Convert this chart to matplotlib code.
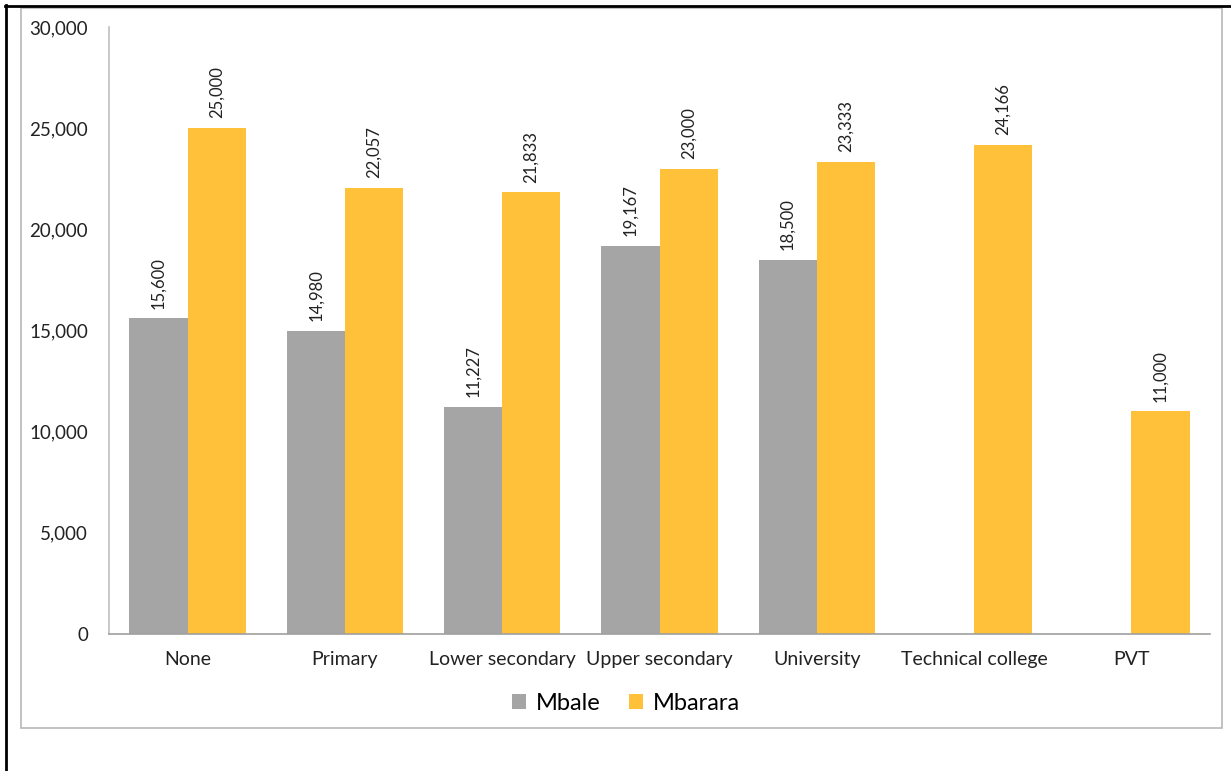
import numpy as np
import matplotlib
matplotlib.use("Agg")
import matplotlib.pyplot as plt
from matplotlib.lines import Line2D

# data
categories = ["None", "Primary", "Lower secondary", "Upper secondary",
              "University", "Technical college", "PVT"]
mbale = [15600, 14980, 11227, 19167, 18500, None, None]
mbarara = [25000, 22057, 21833, 23000, 23333, 24166, 11000]
yticks = [0, 5000, 10000, 15000, 20000, 25000, 30000]

GRAY = "#A5A5A5"
GOLD = "#FFC13A"

plt.rcParams["font.family"] = ["Lato", "DejaVu Sans"]

W, H = 1231, 771
fig = plt.figure(figsize=(W / 100, H / 100), dpi=100)

# outer frame lines (black, top and left) and inner gray chart box
fig.add_artist(Line2D([6 / W, 6 / W], [0, 1 - 5 / H], color="black", lw=2))
fig.add_artist(Line2D([5 / W, 1], [1 - 6 / H, 1 - 6 / H], color="black", lw=2))
fig.add_artist(plt.Rectangle((21 / W, 1 - 728 / H), (1222 - 21) / W, (728 - 8) / H,
                             fill=False, edgecolor="#B8B8B8", lw=1.2))

ax = fig.add_axes([109 / W, 1 - 634 / H, (1210 - 109) / W, (634 - 27) / H])

x = np.arange(len(categories))
bw = 0.37
mb = [v if v is not None else 0 for v in mbale]
bars1 = ax.bar(x - bw / 2, mb, bw, color=GRAY, label="Mbale")
bars2 = ax.bar(x + bw / 2, mbarara, bw, color=GOLD, label="Mbarara")

for i, v in enumerate(mbale):
    if v is not None:
        ax.annotate(f"{v:,}", (x[i] - bw / 2, v), xytext=(0, 7),
                    textcoords="offset points", rotation=90,
                    ha="center", va="bottom", fontsize=12, color="#222222")
for i, v in enumerate(mbarara):
    ax.annotate(f"{v:,}", (x[i] + bw / 2, v), xytext=(0, 7),
                textcoords="offset points", rotation=90,
                ha="center", va="bottom", fontsize=12, color="#222222")

ax.set_xlim(-0.5, len(categories) - 0.5)
ax.set_ylim(0, 30000)
ax.set_yticks(yticks)
ax.set_yticklabels([f"{t:,}" for t in yticks], fontsize=13.5, color="#222222")
ax.set_xticks(x)
ax.set_xticklabels(categories, fontsize=14, color="#222222")
ax.tick_params(axis="both", length=0)
ax.tick_params(axis="y", pad=15)
ax.tick_params(axis="x", pad=12)

for s in ["top", "right"]:
    ax.spines[s].set_visible(False)
ax.spines["left"].set_color("#BFBFBF")
ax.spines["bottom"].set_color("#A0A0A0")
ax.spines["left"].set_linewidth(1.2)
ax.spines["bottom"].set_linewidth(1.2)

fig.legend(handles=[bars1, bars2], labels=["Mbale", "Mbarara"],
           loc="center", bbox_to_anchor=(626 / W, 1 - 703 / H), ncol=2,
           frameon=False, fontsize=17, handlelength=0.6, handleheight=0.6,
           handletextpad=0.4, columnspacing=1.2)

fig.savefig("out.png", dpi=100)
